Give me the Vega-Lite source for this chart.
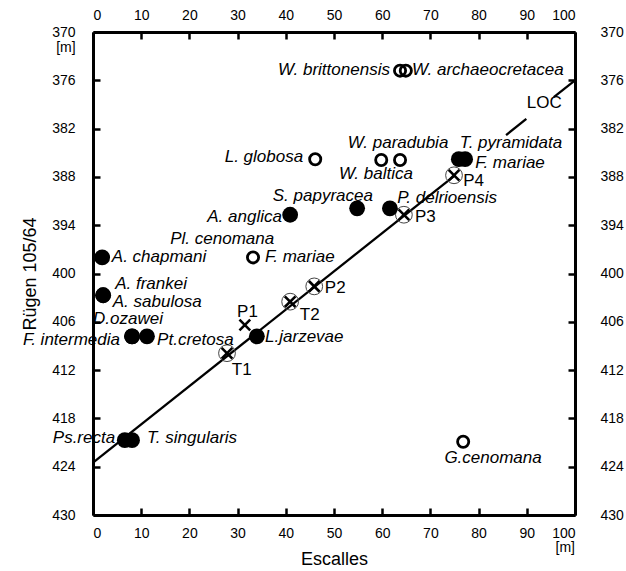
{
  "$schema": "https://vega.github.io/schema/vega-lite/v6.json",
  "width": 482,
  "height": 483,
  "autosize": {"type": "none"},
  "padding": {"left": 93, "top": 32, "right": 51, "bottom": 56},
  "background": "white",
  "config": {"view": {"stroke": null}, "font": "Liberation Sans"},
  "datasets": {
    "filled": [
      {"name": "T. pyramidata", "x": 75.9, "y": 385.8},
      {"name": "F. mariae", "x": 77.2, "y": 385.8},
      {"name": "S. papyracea", "x": 54.8, "y": 391.9},
      {"name": "P. delrioensis", "x": 61.6, "y": 391.9},
      {"name": "A. anglica", "x": 40.9, "y": 392.7},
      {"name": "A. chapmani", "x": 1.9, "y": 398.0},
      {"name": "A. frankei", "x": 2.1, "y": 402.7},
      {"name": "A. sabulosa", "x": 2.1, "y": 402.7},
      {"name": "L. jarzevae", "x": 34.0, "y": 407.8},
      {"name": "F. intermedia", "x": 8.1, "y": 407.8},
      {"name": "Pt. cretosa", "x": 11.2, "y": 407.8},
      {"name": "D. ozawei", "x": 8.1, "y": 407.8},
      {"name": "Ps. recta", "x": 6.6, "y": 420.7},
      {"name": "T. singularis", "x": 8.1, "y": 420.7}
    ],
    "open": [
      {"name": "W. brittonensis", "x": 63.7, "y": 374.8},
      {"name": "W. archaeocretacea", "x": 64.9, "y": 374.8},
      {"name": "L. globosa", "x": 46.1, "y": 385.8},
      {"name": "W. paradubia", "x": 63.7, "y": 385.9},
      {"name": "W. baltica", "x": 59.8, "y": 385.9},
      {"name": "F. mariae", "x": 33.2, "y": 398.0},
      {"name": "G. cenomana", "x": 76.8, "y": 420.9}
    ],
    "circled": [
      {"name": "P4", "x": 74.9, "y": 387.8},
      {"name": "P3", "x": 64.5, "y": 392.7},
      {"name": "P2", "x": 45.9, "y": 401.6},
      {"name": "T2", "x": 40.9, "y": 403.5},
      {"name": "T1", "x": 27.8, "y": 409.9}
    ],
    "crosses": [
      {"name": "P4", "x": 74.9, "y": 387.8},
      {"name": "P3", "x": 64.5, "y": 392.7},
      {"name": "P2", "x": 45.9, "y": 401.6},
      {"name": "T2", "x": 40.9, "y": 403.5},
      {"name": "T1", "x": 27.8, "y": 409.9},
      {"name": "P1", "x": 31.5, "y": 406.4}
    ],
    "loc": [
      {"seg": "a", "x": 0, "y": 423.5},
      {"seg": "a", "x": 74.9, "y": 387.9},
      {"seg": "b", "x": 85.7, "y": 382.8},
      {"seg": "b", "x": 89.9, "y": 380.8},
      {"seg": "c", "x": 95.6, "y": 378.1},
      {"seg": "c", "x": 100, "y": 376}
    ],
    "units": [
      {"t": "[m]", "x": -3.6, "y": 372.0},
      {"t": "[m]", "x": 100, "y": 434.1}
    ],
    "labRight": [
      {"t": "W. brittonensis", "x": 61.6, "y": 374.7},
      {"t": "L. globosa", "x": 43.6, "y": 385.5},
      {"t": "A. anglica", "x": 39.2, "y": 393.0},
      {"t": "F. intermedia", "x": 5.6, "y": 408.3},
      {"t": "Ps.recta", "x": 4.6, "y": 420.4}
    ],
    "labLeft": [
      {"t": "W. archaeocretacea", "x": 66.2, "y": 374.7},
      {"t": "T. pyramidata", "x": 76.1, "y": 383.8},
      {"t": "F. mariae", "x": 79.3, "y": 386.3},
      {"t": "S. papyracea", "x": 37.3, "y": 390.4},
      {"t": "P. delrioensis", "x": 63.1, "y": 390.6},
      {"t": "A. chapmani", "x": 3.9, "y": 398.0},
      {"t": "F. mariae", "x": 35.7, "y": 398.0},
      {"t": "A. frankei", "x": 4.6, "y": 401.3},
      {"t": "A. sabulosa", "x": 4.1, "y": 403.6},
      {"t": "D.ozawei", "x": 0.0, "y": 405.6},
      {"t": "Pt.cretosa", "x": 13.3, "y": 408.3},
      {"t": "L.jarzevae", "x": 35.7, "y": 407.9},
      {"t": "T. singularis", "x": 11.2, "y": 420.4}
    ],
    "labCenter": [
      {"t": "Pl. cenomana", "x": 26.8, "y": 395.7},
      {"t": "W. paradubia", "x": 63.3, "y": 383.8},
      {"t": "W. baltica", "x": 58.7, "y": 387.6},
      {"t": "G.cenomana", "x": 83.0, "y": 422.9}
    ],
    "labPlain": [
      {"t": "LOC", "x": 90.0, "y": 378.8},
      {"t": "P4", "x": 76.8, "y": 388.5},
      {"t": "P3", "x": 66.8, "y": 393.0},
      {"t": "P2", "x": 48.1, "y": 401.8},
      {"t": "T2", "x": 42.9, "y": 405.2},
      {"t": "P1", "x": 29.9, "y": 404.8},
      {"t": "T1", "x": 28.8, "y": 412.0}
    ]
  },
  "layer": [
    {
      "data": {"name": "loc"},
      "mark": {"type": "line", "color": "black", "strokeWidth": 2.3},
      "encoding": {
        "x": {
          "field": "x", "type": "quantitative",
          "scale": {"domain": [0, 100], "nice": false},
          "axis": {
            "orient": "bottom",
            "values": [0, 10, 20, 30, 40, 50, 60, 70, 80, 90, 100],
            "grid": false, "tickSize": -7, "tickWidth": 2.5, "tickColor": "black",
            "domainWidth": 3, "domainColor": "black",
            "labelFontSize": 14, "labelColor": "black",
            "labelPadding": 18,
            "title": "Escalles",
            "titleFontSize": 18, "titleFontWeight": "normal", "titleColor": "black", "titlePadding": 10
          }
        },
        "y": {
          "field": "y", "type": "quantitative",
          "scale": {"domain": [370, 430], "reverse": true, "nice": false, "zero": false},
          "axis": {
            "orient": "left",
            "values": [370, 376, 382, 388, 394, 400, 406, 412, 418, 424, 430],
            "grid": false, "tickSize": -7, "tickWidth": 2.5, "tickColor": "black",
            "domainWidth": 3, "domainColor": "black",
            "labelFontSize": 14, "labelColor": "black",
            "labelPadding": 25,
            "title": "Rügen 105/64",
            "titleFontSize": 18, "titleFontWeight": "normal", "titleColor": "black", "titlePadding": 12
          }
        },
        "detail": {"field": "seg"}
      }
    },
    {
      "data": {"name": "circled"},
      "mark": {"type": "point", "shape": "circle", "filled": false, "stroke": "#444444", "strokeWidth": 1, "size": 280, "opacity": 1},
      "encoding": {
        "x": {"field": "x", "type": "quantitative", "axis": null},
        "y": {"field": "y", "type": "quantitative", "axis": null}
      }
    },
    {
      "data": {"name": "crosses"},
      "mark": {"type": "point", "shape": "M-1,-1L1,1M-1,1L1,-1", "filled": false, "stroke": "black", "strokeWidth": 2.6, "size": 115, "opacity": 1},
      "encoding": {
        "x": {"field": "x", "type": "quantitative", "axis": null},
        "y": {"field": "y", "type": "quantitative", "axis": null}
      }
    },
    {
      "data": {"name": "open"},
      "mark": {"type": "point", "shape": "circle", "filled": false, "stroke": "black", "strokeWidth": 2.8, "size": 125, "opacity": 1},
      "encoding": {
        "x": {"field": "x", "type": "quantitative", "axis": null},
        "y": {"field": "y", "type": "quantitative", "axis": null}
      }
    },
    {
      "data": {"name": "filled"},
      "mark": {"type": "point", "shape": "circle", "filled": true, "fill": "black", "strokeWidth": 0, "size": 250, "opacity": 1},
      "encoding": {
        "x": {"field": "x", "type": "quantitative", "axis": null},
        "y": {"field": "y", "type": "quantitative", "axis": null}
      }
    },
    {
      "data": {"name": "units"},
      "mark": {"type": "text", "align": "right", "baseline": "middle", "fontSize": 14, "color": "black", "clip": false},
      "encoding": {
        "x": {"field": "x", "type": "quantitative", "axis": null},
        "y": {"field": "y", "type": "quantitative", "axis": null},
        "text": {"field": "t"}
      }
    },
    {
      "data": {"name": "labRight"},
      "mark": {"type": "text", "align": "right", "baseline": "middle", "fontStyle": "italic", "fontSize": 17, "color": "black"},
      "encoding": {
        "x": {"field": "x", "type": "quantitative", "axis": null},
        "y": {"field": "y", "type": "quantitative", "axis": null},
        "text": {"field": "t"}
      }
    },
    {
      "data": {"name": "labLeft"},
      "mark": {"type": "text", "align": "left", "baseline": "middle", "fontStyle": "italic", "fontSize": 17, "color": "black"},
      "encoding": {
        "x": {"field": "x", "type": "quantitative", "axis": null},
        "y": {"field": "y", "type": "quantitative", "axis": null},
        "text": {"field": "t"}
      }
    },
    {
      "data": {"name": "labCenter"},
      "mark": {"type": "text", "align": "center", "baseline": "middle", "fontStyle": "italic", "fontSize": 17, "color": "black"},
      "encoding": {
        "x": {"field": "x", "type": "quantitative", "axis": null},
        "y": {"field": "y", "type": "quantitative", "axis": null},
        "text": {"field": "t"}
      }
    },
    {
      "data": {"name": "labPlain"},
      "mark": {"type": "text", "align": "left", "baseline": "middle", "fontSize": 17, "color": "black"},
      "encoding": {
        "x": {"field": "x", "type": "quantitative", "axis": null},
        "y": {"field": "y", "type": "quantitative", "axis": null},
        "text": {"field": "t"}
      }
    },
    {
      "data": {"name": "loc"},
      "mark": {"type": "point", "opacity": 0},
      "encoding": {
        "x": {
          "field": "x", "type": "quantitative",
          "axis": {
            "orient": "top",
            "values": [0, 10, 20, 30, 40, 50, 60, 70, 80, 90, 100],
            "grid": false, "tickSize": -7, "tickWidth": 2.5, "tickColor": "black",
            "domainWidth": 3, "domainColor": "black",
            "labelFontSize": 14, "labelColor": "black",
            "labelPadding": 17,
            "title": null
          }
        },
        "y": {
          "field": "y", "type": "quantitative",
          "axis": {
            "orient": "right",
            "values": [370, 376, 382, 388, 394, 400, 406, 412, 418, 424, 430],
            "grid": false, "tickSize": -7, "tickWidth": 2.5, "tickColor": "black",
            "domainWidth": 3, "domainColor": "black",
            "labelFontSize": 14, "labelColor": "black",
            "labelPadding": 32,
            "title": null
          }
        }
      }
    }
  ],
  "resolve": {"axis": {"x": "independent", "y": "independent"}}
}
